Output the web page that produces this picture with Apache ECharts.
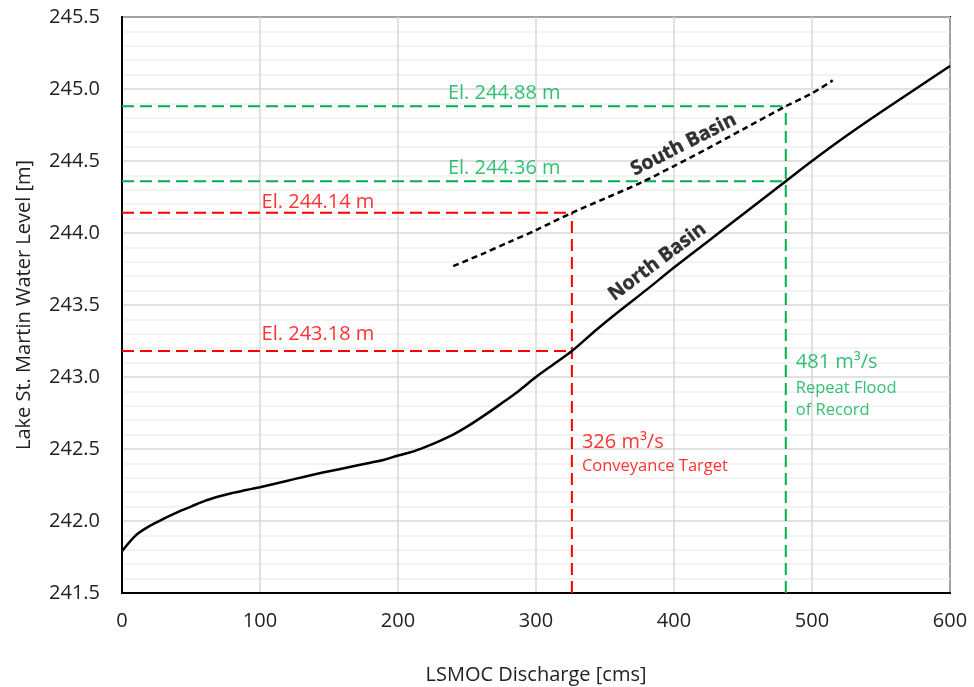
<!DOCTYPE html>
<html>
<head>
<meta charset="utf-8">
<title>Lake St. Martin Water Level vs LSMOC Discharge</title>
<script src="https://cdn.jsdelivr.net/npm/echarts@6/dist/echarts.min.js"></script>
<style>
  html, body { margin: 0; padding: 0; background: #ffffff; }
  #chart { width: 974px; height: 687px; }
</style>
</head>
<body>
<div id="chart"></div>
<script>
// Stage-discharge relationship, North Basin (solid) [discharge cms, level m]
const northQ  = [0, 10, 20, 30, 40, 50, 60, 70, 80, 90, 100, 120, 140, 160, 180, 190, 200, 210, 220, 230, 240, 250, 262, 274, 287, 300, 313, 326, 344, 360, 380, 400, 425, 450, 481, 500, 525, 550, 575, 600];
const northEl = [241.79, 241.90, 241.965, 242.015, 242.06, 242.10, 242.14, 242.17, 242.195, 242.215, 242.235, 242.28, 242.325, 242.365, 242.405, 242.425, 242.455, 242.48, 242.515, 242.555, 242.60, 242.655, 242.73, 242.81, 242.90, 243.00, 243.09, 243.18, 243.33, 243.455, 243.605, 243.76, 243.945, 244.13, 244.36, 244.50, 244.675, 244.84, 245.00, 245.16];

// South Basin (dashed)
const southQ  = [240, 260, 280, 300, 326, 350, 375, 400, 425, 450, 481, 500, 515];
const southEl = [243.77, 243.85, 243.935, 244.02, 244.14, 244.24, 244.345, 244.465, 244.59, 244.72, 244.88, 244.97, 245.06];

// Design discharges and the resulting levels in each basin
const targetQ   = [326, 481];            // conveyance target, repeat flood of record
const targetNorth = [243.18, 244.36];
const targetSouth = [244.14, 244.88];
const targetColors = ['#ff0000', '#00b050'];

// Axis ticks
const xTicks = [0, 100, 200, 300, 400, 500, 600];
const yTicks = [241.5, 242.0, 242.5, 243.0, 243.5, 244.0, 244.5, 245.0, 245.5];

const FONT = 'Open Sans';
const pair = (xs, ys) => xs.map((x, i) => [x, ys[i]]);

// Reference lines: horizontal from the y axis to the design discharge,
// vertical from the upper level down to the bottom of the plot
const refSeries = [];
targetQ.forEach((q, i) => {
  const style = { color: targetColors[i], width: 2, type: [12, 6] };
  [targetNorth[i], targetSouth[i]].forEach(el => {
    refSeries.push({
      type: 'line', data: [[xTicks[0], el], [q, el]], symbol: 'none',
      lineStyle: style, silent: true, z: 2, animation: false
    });
  });
  refSeries.push({
    type: 'line', data: [[q, yTicks[0]], [q, targetSouth[i]]], symbol: 'none',
    lineStyle: style, silent: true, z: 2, animation: false
  });
});

// Text annotations placed in data space
const fmtEl = v => 'El. ' + v.toFixed(2) + ' m';
const notes = [
  { at: [277, targetSouth[1]], text: fmtEl(targetSouth[1]), color: targetColors[1], size: 20, pos: 'top', dist: 3 },
  { at: [277, targetNorth[1]], text: fmtEl(targetNorth[1]), color: targetColors[1], size: 20, pos: 'top', dist: 3 },
  { at: [142, targetSouth[0]], text: fmtEl(targetSouth[0]), color: targetColors[0], size: 20, pos: 'top', dist: 1 },
  { at: [142, targetNorth[0]], text: fmtEl(targetNorth[0]), color: targetColors[0], size: 20, pos: 'top', dist: 7 },
  { at: [targetQ[0], 242.55], text: targetQ[0] + ' m³/s', color: targetColors[0], size: 20, pos: 'right', dist: 10 },
  { at: [targetQ[0], 242.38], text: 'Conveyance Target', color: targetColors[0], size: 16.5, pos: 'right', dist: 10 },
  { at: [targetQ[1], 243.10], text: targetQ[1] + ' m³/s', color: targetColors[1], size: 20, pos: 'right', dist: 10 },
  { at: [targetQ[1], 242.92], text: 'Repeat Flood', color: targetColors[1], size: 16.5, pos: 'right', dist: 10 },
  { at: [targetQ[1], 242.77], text: 'of Record', color: targetColors[1], size: 16.5, pos: 'right', dist: 10 },
  { at: [407, 244.613], text: 'South Basin', color: '#000000', size: 19.5, pos: 'inside', dist: 0, rotate: 27, bold: true },
  { at: [388, 243.80], text: 'North Basin', color: '#000000', size: 19.5, pos: 'inside', dist: 0, rotate: 37, bold: true }
];

const noteSeries = {
  type: 'scatter', symbolSize: 0, silent: true, z: 5, animation: false,
  itemStyle: { color: '#000000' },
  data: notes.map(n => ({
    value: n.at,
    label: {
      show: true, formatter: n.text, position: n.pos, distance: n.dist,
      rotate: n.rotate || 0, color: n.color, fontSize: n.size,
      fontFamily: FONT, fontWeight: n.bold ? 'bold' : 'normal',
      textBorderWidth: n.bold ? 0.4 : 0, textBorderColor: n.bold ? '#000000' : 'transparent'
    }
  }))
};

const chart = echarts.init(document.getElementById('chart'), null, { renderer: 'canvas' });
chart.setOption({
  backgroundColor: '#ffffff',
  animation: false,
  grid: {
    left: 122, right: 24, top: 17, bottom: 94,
    outerBoundsMode: 'none',
    show: true, borderColor: '#000000', borderWidth: 2, backgroundColor: 'transparent'
  },
  xAxis: {
    type: 'value', min: xTicks[0], max: xTicks[xTicks.length - 1], interval: 100,
    name: 'LSMOC Discharge [cms]', nameLocation: 'middle', nameGap: 72,
    nameTextStyle: { fontFamily: FONT, fontSize: 20, color: '#222222' },
    axisLine: { show: true, lineStyle: { color: '#000000', width: 2 } },
    axisTick: { show: false },
    axisLabel: { fontFamily: FONT, fontSize: 20, color: '#222222', margin: 18 },
    splitLine: { show: true, lineStyle: { color: '#d9d9d9', width: 1.5 } }
  },
  yAxis: {
    type: 'value', min: yTicks[0], max: yTicks[yTicks.length - 1], interval: 0.5,
    name: 'Lake St. Martin Water Level [m]', nameLocation: 'middle', nameGap: 88, nameRotate: 90,
    nameTextStyle: { fontFamily: FONT, fontSize: 20, color: '#222222' },
    axisLine: { show: true, lineStyle: { color: '#000000', width: 2 } },
    axisTick: { show: false },
    axisLabel: { fontFamily: FONT, fontSize: 20, color: '#222222', margin: 22,
                 formatter: v => v.toFixed(1) },
    splitLine: { show: true, lineStyle: { color: '#d9d9d9', width: 1.5 } },
    minorTick: { show: false, splitNumber: 5 },
    minorSplitLine: { show: true, lineStyle: { color: '#f0f0f0', width: 1.5 } }
  },
  series: [
    ...refSeries,
    {
      name: 'North Basin', type: 'line', data: pair(northQ, northEl),
      symbol: 'none', smooth: 0.3, z: 4,
      lineStyle: { color: '#000000', width: 2.5 }
    },
    {
      name: 'South Basin', type: 'line', data: pair(southQ, southEl),
      symbol: 'none', smooth: 0.3, z: 4,
      lineStyle: { color: '#000000', width: 2.5, type: [6, 4] }
    },
    noteSeries
  ]
});
</script>
</body>
</html>
